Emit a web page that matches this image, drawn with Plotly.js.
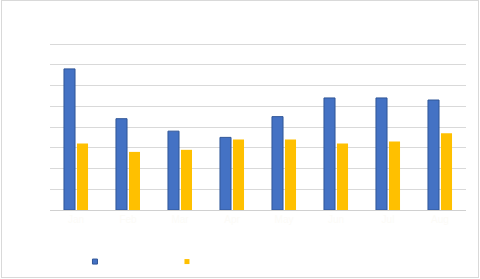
<!DOCTYPE html>
<html>
<head>
<meta charset="utf-8">
<script src="https://cdn.plot.ly/plotly-3.0.1.min.js"></script>
<style>
  html, body { margin: 0; padding: 0; background: #fff; }
  #wrap { position: relative; width: 480px; height: 279px; }
  #chart { position: absolute; left: 0; top: 0; width: 480px; height: 279px; }
  #frame { position: absolute; left: 1px; top: 0px; width: 476px; height: 276px; border: 1px solid #d9d9d9; pointer-events: none; }
</style>
</head>
<body>
<div id="wrap">
  <div id="chart"></div>
  <div id="frame"></div>
</div>
<script>
const categories = ["Jan", "Feb", "Mar", "Apr", "May", "Jun", "Jul", "Aug"];
const series1Name = "Series 1";
const series2Name = "Series 2";
const series1 = [68, 44, 38, 35, 45, 54, 54, 53];
const series2 = [32, 28, 29, 34, 34, 32, 33, 37];
const yTicks = [0, 10, 20, 30, 40, 50, 60, 70, 80];

const blue = "#4472c4", blueLine = "#2f5597", gold = "#ffc000";

const traces = [
  { type: "bar", x: categories, y: series1, name: series1Name, showlegend: false,
    marker: { color: blue, line: { color: blueLine, width: 1 } } },
  { type: "bar", x: categories, y: series2, name: series2Name, showlegend: false,
    marker: { color: gold, line: { width: 0 } } },
  { type: "scatter", mode: "markers", x: [null], y: [null], name: series1Name,
    marker: { symbol: "square", size: 5, color: blue, line: { color: blueLine, width: 1 } } },
  { type: "scatter", mode: "markers", x: [null], y: [null], name: series2Name,
    marker: { symbol: "square", size: 5, color: gold, line: { width: 0 } } }
];

const layout = {
  width: 480, height: 279,
  margin: { l: 50, r: 14, t: 40, b: 69, autoexpand: false },
  paper_bgcolor: "rgba(0,0,0,0)", plot_bgcolor: "rgba(0,0,0,0)",
  barmode: "group", bargap: 0.5, bargroupgap: 0.15,
  font: { family: "Liberation Sans, Arial, sans-serif", size: 10, color: "#ffffff" },
  xaxis: { showgrid: false, showline: true, linecolor: "#d0d0d0", linewidth: 1,
    ticks: "", tickfont: { color: "#fcfbf7", size: 10 }, fixedrange: true },
  yaxis: { range: [0, 81.93], tickvals: yTicks, showgrid: true, gridcolor: "#d9d9d9", gridwidth: 1,
    zeroline: false, showline: false, ticks: "", tickfont: { color: "#ffffff", size: 10 }, fixedrange: true },
  showlegend: true,
  legend: { orientation: "h", x: 0.06, xanchor: "left", y: -0.218, yanchor: "top",
    font: { color: "#ffffff", size: 10 }, entrywidth: 47, bgcolor: "rgba(0,0,0,0)" }
};

Plotly.newPlot("chart", traces, layout, { staticPlot: true, displayModeBar: false });
</script>
</body>
</html>
